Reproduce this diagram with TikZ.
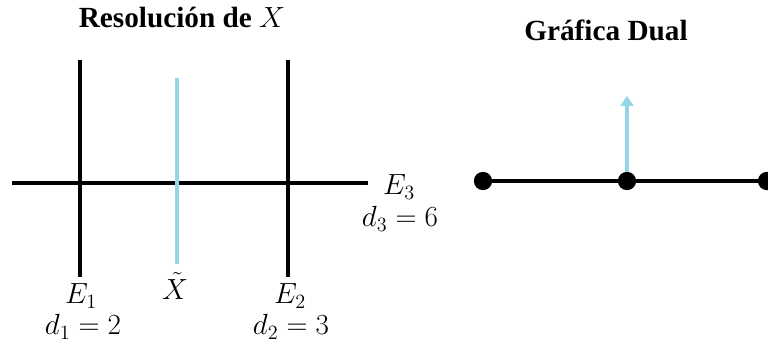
\documentclass[tikz,border=0pt]{standalone}
\usepackage{fontspec}
\setmainfont{Liberation Serif}
\usepackage{amsmath}
\usetikzlibrary{arrows.meta}
\definecolor{skyblue}{RGB}{150,212,232}

\begin{document}
\begin{tikzpicture}[x=0.025cm,y=-0.025cm,
        divisor/.style={line width=3.1pt,black},
        strict/.style={line width=3.1pt,skyblue},
        vertex/.style={circle,fill=black,inner sep=0pt,minimum size=13pt},
        lbl/.style={font=\fontsize{20}{23}\selectfont,inner sep=0pt},
        titulo/.style={font=\fontsize{20.8}{24}\selectfont\bfseries}]
        \useasboundingbox (0,0) rectangle (768,345);
        % resolucion
        \node[titulo] (tres) at (182,18) {Resolución de $X$};
        \coordinate (e3a) at (12,183);
        \coordinate (e3b) at (368,183);
        \coordinate (e1a) at (80,60);
        \coordinate (e1b) at (80,277);
        \coordinate (e2a) at (288,60);
        \coordinate (e2b) at (288,277);
        \coordinate (xa) at (177,78);
        \coordinate (xb) at (177,264);
        \draw[divisor] (e3a) -- (e3b);
        \draw[divisor] (e1a) -- (e1b);
        \draw[divisor] (e2a) -- (e2b);
        \draw[strict] (xa) -- (xb);
        \node[lbl] (le1) at (81,296) {$E_1$};
        \node[lbl] (ld1) at (83,327) {$d_1=2$};
        \node[lbl] (lx) at (175,286) {$\tilde{X}$};
        \node[lbl] (le2) at (290,296) {$E_2$};
        \node[lbl] (ld2) at (291,327) {$d_2=3$};
        \node[lbl] (le3) at (399,187) {$E_3$};
        \node[lbl] (ld3) at (400,219) {$d_3=6$};
        % grafica dual
        \node[titulo] (tdual) at (606,30) {Gráfica Dual};
        \coordinate (flecha) at (627,96);
        \node[vertex] (v1) at (483,181) {};
        \node[vertex] (v2) at (627,181) {};
        \node[vertex] (v3) at (767,181) {};
        \draw[divisor] (v1) -- (v2) -- (v3);
        \draw[strict,-{Triangle[length=7pt,width=9pt]}] (v2) -- (flecha);
\end{tikzpicture}
\end{document}
